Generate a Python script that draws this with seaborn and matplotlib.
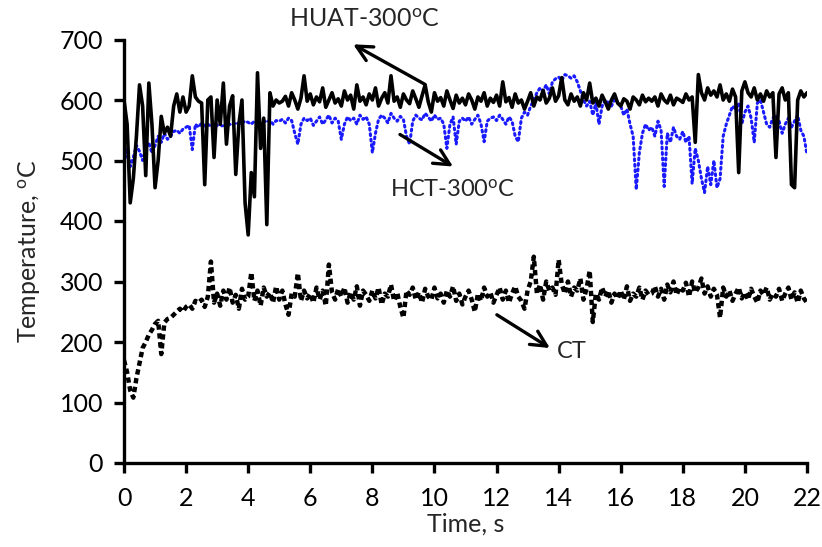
import numpy as np
import pandas as pd
import matplotlib
matplotlib.use("Agg")
import matplotlib.pyplot as plt
import seaborn as sns
from matplotlib import font_manager

# ---------------- data (0.1 s steps) ----------------
time_s = [round(i * 0.1, 1) for i in range(221)]

huat = [
    600, 560, 430, 470, 540, 625, 590, 475, 628, 560,
    455, 500, 573, 545, 555, 540, 590, 610, 580, 605,
    580, 590, 640, 605, 598, 595, 460, 600, 605, 505,
    600, 560, 628, 527, 590, 607, 477, 560, 600, 430,
    377, 480, 440, 645, 520, 570, 394, 612, 590, 600,
    595, 598, 606, 590, 612, 600, 585, 603, 640, 598,
    610, 592, 605, 597, 620, 588, 600, 612, 595, 602,
    590, 615, 600, 608, 585, 625, 598, 605, 592, 610,
    600, 620, 590, 603, 612, 595, 640, 598, 605, 588,
    610, 600, 594, 615, 602, 588, 607, 625, 597, 580,
    612, 598, 604, 590, 615, 600, 586, 608, 595, 603,
    592, 610, 600, 585, 605, 598, 612, 590, 603, 596,
    608, 590, 630, 597, 604, 588, 610, 595, 600, 585,
    598, 612, 590, 605, 600, 616, 595, 603, 620, 598,
    607, 637, 600, 592, 610, 598, 605, 590, 612, 600,
    628, 595, 603, 590, 608, 597, 585, 600, 610, 595,
    590, 602, 598, 585, 605, 600, 592, 608, 597, 603,
    598, 605, 590, 610, 600, 595, 608, 592, 603, 600,
    596, 610, 600, 605, 530, 642, 612, 600, 620, 608,
    615, 605, 625, 600, 610, 598, 618, 605, 480, 615,
    630, 612, 605, 620, 600, 610, 598, 615, 605, 612,
    505, 610, 620, 600, 612, 460, 455, 600, 615, 605,
    612,
]

hct = [
    495, 520, 490, 505, 525, 515, 500, 520, 530, 512,
    525, 540, 530, 545, 535, 540, 548, 550, 545, 552,
    555, 558, 518, 560, 555, 562, 557, 560, 556, 562,
    558, 560, 555, 562, 560, 558, 563, 560, 562, 565,
    563, 560, 565, 562, 558, 566, 563, 567, 560, 566,
    565, 568, 562, 570, 566, 545, 527, 560, 570, 566,
    570, 558, 565, 572, 560, 567, 575, 562, 570, 565,
    535, 560, 572, 566, 570, 560, 575, 568, 572, 560,
    513, 545, 568, 575, 570, 562, 578, 570, 565, 573,
    568, 540, 527, 565, 575, 570, 567, 578, 572, 565,
    575, 568, 570, 560, 520, 560, 572, 527, 565, 570,
    565, 572, 560, 568, 575, 560, 531, 565, 570, 572,
    566, 575, 568, 560, 572, 565, 540, 531, 570, 580,
    575, 590, 600, 612, 620, 615, 625, 610, 630, 635,
    638, 632, 642, 640, 636, 640, 630, 615, 600, 590,
    598, 575, 595, 560, 590, 600, 596, 590, 600, 595,
    590, 575, 585, 560, 540, 452, 513, 545, 560, 550,
    555, 540, 565, 550, 457, 545, 530, 555, 540, 535,
    548, 530, 540, 462, 520, 500, 470, 447, 490, 460,
    500, 455, 470, 540, 560, 575, 590, 585, 595, 560,
    580, 590, 570, 530, 595, 600, 580, 560, 555, 570,
    575, 565, 545, 560, 570, 555, 565, 575, 550, 540,
    510,
]

ct = [
    170, 150, 120, 108, 140, 165, 190, 200, 212, 220,
    230, 235, 180, 232, 238, 240, 245, 250, 255, 250,
    258, 262, 255, 268, 265, 270, 258, 275, 333, 265,
    280, 260, 285, 270, 290, 265, 278, 255, 288, 270,
    275, 315, 268, 285, 260, 290, 275, 282, 265, 292,
    270, 285, 262, 245, 280, 275, 314, 268, 285, 272,
    280, 265, 290, 270, 285, 260, 328, 282, 270, 288,
    275, 290, 265, 282, 270, 292, 260, 285, 278, 268,
    285, 272, 290, 262, 280, 275, 295, 268, 282, 258,
    240, 285, 278, 290, 270, 282, 265, 288, 275, 270,
    290, 272, 280, 265, 285, 275, 292, 268, 280, 262,
    275, 285, 270, 250, 280, 268, 290, 275, 282, 265,
    278, 290, 270, 285, 265, 280, 292, 275, 268, 255,
    285, 300, 341, 280, 295, 270, 300, 285, 290, 278,
    336, 295, 280, 300, 275, 290, 285, 305, 270, 288,
    318, 233, 280, 270, 290, 275, 285, 265, 280, 272,
    285, 270, 292, 268, 280, 275, 290, 270, 285, 278,
    280, 292, 275, 288, 270, 295, 282, 300, 278, 290,
    285, 298, 275, 300, 282, 290, 305, 280, 292, 275,
    288, 278, 240, 290, 275, 285, 268, 280, 290, 272,
    282, 270, 288, 275, 265, 285, 278, 290, 270, 280,
    275, 288, 268, 280, 290, 270, 282, 265, 285, 272,
    265,
]

x_ticks = [0, 2, 4, 6, 8, 10, 12, 14, 16, 18, 20, 22]
y_ticks = [0, 100, 200, 300, 400, 500, 600, 700]

# ---------------- style ----------------
sns.set_theme(style="ticks")
names = {f.name for f in font_manager.fontManager.ttflist}
fam = "Liberation Sans Narrow" if "Liberation Sans Narrow" in names else "Lato"
plt.rcParams["font.family"] = [fam, "DejaVu Sans"]
plt.rcParams["mathtext.fontset"] = "custom"
plt.rcParams["mathtext.rm"] = fam
plt.rcParams["mathtext.it"] = fam

df = pd.DataFrame({"t": time_s, "HUAT": huat, "HCT": hct, "CT": ct})

fig = plt.figure(figsize=(8.22, 5.47), dpi=100)
ax = fig.add_axes([124 / 822, 1 - 463 / 547, (807 - 124) / 822, (463 - 39.5) / 547])

sns.lineplot(data=df, x="t", y="HCT", ax=ax, color="#1a1aff", lw=2.2,
             linestyle=(0, (0.6, 1.2)), dash_capstyle="round")
sns.lineplot(data=df, x="t", y="CT", ax=ax, color="black", lw=3.2,
             linestyle=(0, (1.2, 0.8)))
sns.lineplot(data=df, x="t", y="HUAT", ax=ax, color="black", lw=2.6)

ax.set_xlim(0, 22)
ax.set_ylim(0, 700)
ax.set_xticks(x_ticks)
ax.set_yticks(y_ticks)
ax.set_xticklabels([str(v) for v in x_ticks])
ax.set_yticklabels([str(v) for v in y_ticks])
for s in ["top", "right"]:
    ax.spines[s].set_visible(False)
for s in ["left", "bottom"]:
    ax.spines[s].set_linewidth(2.4)
    ax.spines[s].set_color("black")
ax.tick_params(axis="both", direction="out", length=7, width=2.4,
               labelsize=18, colors="black")
ax.tick_params(axis="x", pad=10)
ax.tick_params(axis="y", pad=8)

ax.set_xlabel("Time, s", fontsize=18, labelpad=2)
ax.set_ylabel("Temperature, $^{\\rm o}$C", fontsize=18, labelpad=12)

arrow = dict(arrowstyle="->", lw=2.4, color="black", mutation_scale=28,
             shrinkA=0, shrinkB=0)
ax.annotate("", xy=(7.38, 692), xytext=(9.69, 626), arrowprops=arrow,
            annotation_clip=False)
ax.annotate("", xy=(10.6, 490), xytext=(8.89, 543), arrowprops=arrow)
ax.annotate("", xy=(13.72, 190), xytext=(12.01, 245), arrowprops=arrow)

ax.text(7.75, 733, "HUAT-300$^{\\rm o}$C", fontsize=18, ha="center",
        va="center", clip_on=False)
ax.text(10.6, 452, "HCT-300$^{\\rm o}$C", fontsize=17, ha="center", va="center")
ax.text(13.95, 184, "CT", fontsize=17, ha="left", va="center")

fig.savefig("out.png", dpi=100)
